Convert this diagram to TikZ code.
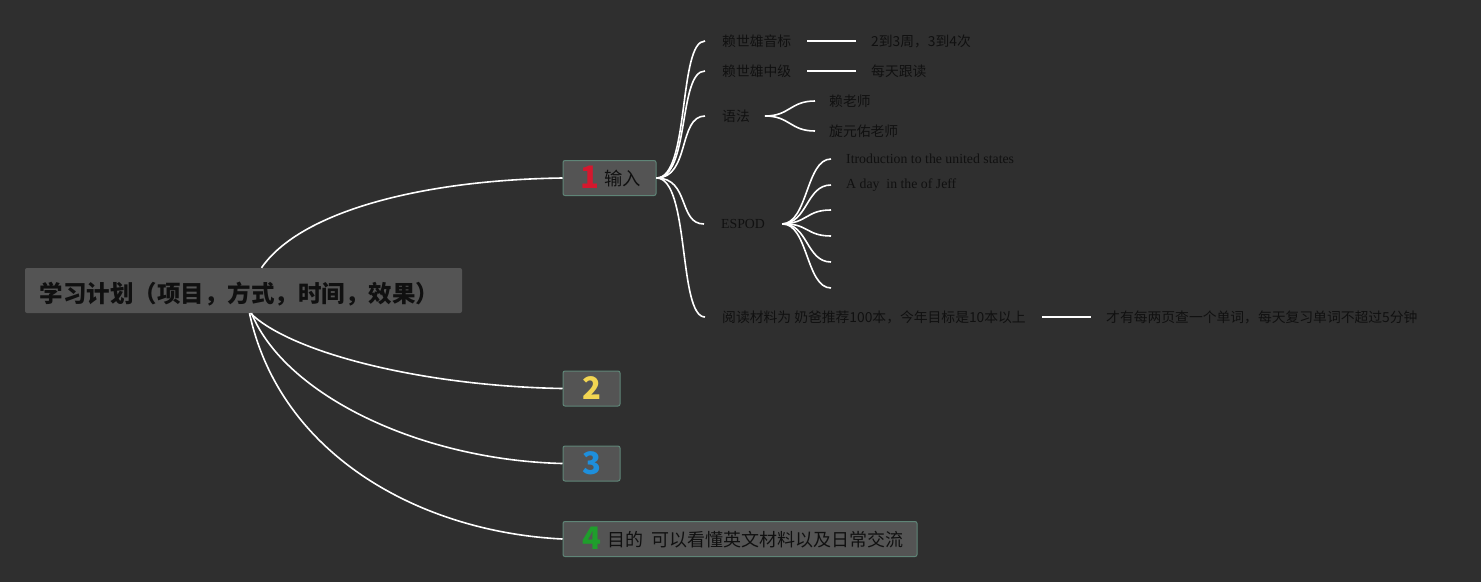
\documentclass[tikz,border=0pt]{standalone}
\usepackage{fontspec}
\setmainfont{Liberation Serif}
\newfontfamily\cjk{Noto Sans CJK SC}
\usepackage{xcolor}
\usetikzlibrary{positioning}

\definecolor{bgcol}{HTML}{2F2F2F}
\definecolor{boxfill}{HTML}{545454}
\definecolor{boxline}{HTML}{5F8577}
\definecolor{ink}{HTML}{101010}
\definecolor{numred}{HTML}{D4182E}
\definecolor{numyellow}{HTML}{F2D552}
\definecolor{numblue}{HTML}{1E8FDC}
\definecolor{numgreen}{HTML}{1F9E2C}
\newcommand\topicnum[2]{{\cjk\bfseries\fontsize{31}{32}\selectfont\color{#1}#2}}
% digit in front of a title, sitting a little below the baseline
\newcommand\leadnum[2]{\raisebox{-3pt}{\topicnum{#1}{#2}}}
% put a title line with its baseline #1 below the node centre
\newcommand\baseat[2]{\raisebox{-#1}[0pt][0pt]{#2}}

\begin{document}
\begin{tikzpicture}[
      x=1pt, y=-1pt,
      box/.style={fill=boxfill, rounded corners=2pt, align=center,
                  inner sep=0pt, text=ink},
      rootbox/.style={box, font=\cjk\bfseries\fontsize{23.5}{26}\selectfont,
                      minimum width=437pt, minimum height=45pt},
      topic/.style={box, draw=boxline, line width=1pt,
                    font=\cjk\fontsize{18.3}{22}\selectfont, minimum height=35pt},
      leaf/.style={anchor=west, inner sep=0pt, text=ink,
                   font=\cjk\fontsize{13.8}{16}\selectfont},
      eleaf/.style={leaf, font=\fontsize{13.8}{16}\selectfont},
      branch/.style={white, line width=1.6pt},
    ]
    \fill[bgcol] (0,0) rectangle (1481,582);
    \useasboundingbox (0,0) rectangle (1481,582);

    % --- root and the four numbered topics ---------------------------------
    \node[rootbox] (root) at (243.5, 290.5)
          {\baseat{11.5pt}{学习计划（项目，方式，时间，效果）\hspace*{8pt}}};
    \node[topic, minimum width=93pt] (in)   at (609.5, 178)
          {\baseat{7pt}{\hspace*{3pt}\leadnum{numred}{1}\hspace{5pt}输入}};
    \node[topic, minimum width=57pt] (two)  at (591.5, 388.5)
          {\topicnum{numyellow}{2}};
    \node[topic, minimum width=57pt] (three) at (591.5, 463.5)
          {\topicnum{numblue}{3}};
    \node[topic, minimum width=354pt, font=\cjk\fontsize{18}{22}\selectfont]
          (goal) at (740, 539)
          {\baseat{7.5pt}{\hspace*{6pt}\leadnum{numgreen}{4}\hspace{6pt}目的\ \ 可以看懂英文材料以及日常交流}};

    % --- children of the input topic ---------------------------------------
    \node[leaf] (phon)    at (722, 41)  {赖世雄音标};
    \node[leaf] (phonN)   at (871, 41)  {2到3周，3到4次};
    \node[leaf] (mid)     at (722, 71)  {赖世雄中级};
    \node[leaf] (midN)    at (871, 71)  {每天跟读};
    \node[leaf] (gram)    at (722, 116) {语法};
    \node[leaf] (gramA)   at (829, 101) {赖老师};
    \node[leaf] (gramB)   at (829, 131) {旋元佑老师};
    \node[eleaf] (espod)  at (721, 224) {ESPOD};
    \node[eleaf] (espA)   at (846, 159) {Itroduction to the united states};
    \node[eleaf] (espB)   at (846, 185) {A day\ \ in the of Jeff};
    \node[leaf] (read)    at (722, 317) {阅读材料为 奶爸推荐100本，今年目标是10本以上};
    \node[leaf] (readN)   at (1106, 317) {才有每两页查一个单词，每天复习单词不超过5分钟};
    % empty sub-topics under ESPOD
    \coordinate (espC) at (831, 210);
    \coordinate (espD) at (831, 236);
    \coordinate (espE) at (831, 262);
    \coordinate (espF) at (831, 288);

    % --- root -> topics -----------------------------------------------------
    \draw[branch] ([xshift=18pt]root.north) .. controls (300,212) and (420,180)
                  .. (in.west);
    \draw[branch] ([xshift=7pt]root.south) .. controls (290,352) and (420,386)
                  .. (two.west);
    \draw[branch] ([xshift=8pt]root.south) .. controls (285,395) and (420,460)
                  .. (three.west);
    \draw[branch] ([xshift=6pt]root.south) .. controls (280,455) and (420,532)
                  .. (goal.west);

    % --- input topic -> its children ----------------------------------------
    \foreach \c in {phon, mid, gram, espod, read}
      \draw[branch] (in.east) .. controls (690,178) and (678,0 |- \c.west)
                    .. ([xshift=-17pt]\c.west);

    \draw[branch, shorten <=16pt, shorten >=15pt] (phon.east) -- (phonN.west);
    \draw[branch, shorten <=16pt, shorten >=15pt] (mid.east)  -- (midN.west);
    \draw[branch, shorten <=16pt, shorten >=15pt] (read.east) -- (readN.west);

    \foreach \c in {gramA, gramB}
      \draw[branch] ([xshift=15pt]gram.east) .. controls (790,116) and
                    (790,0 |- \c.west) .. ([xshift=-14pt]\c.west);

    \foreach \c in {espA, espB}
      \draw[branch] ([xshift=17pt]espod.east) .. controls (808,223) and
                    (806,0 |- \c.west) .. ([xshift=-15pt]\c.west);
    \foreach \c in {espC, espD, espE, espF}
      \draw[branch] ([xshift=17pt]espod.east) .. controls (808,223) and
                    (806,0 |- \c) .. (\c);
  \end{tikzpicture}
\end{document}
